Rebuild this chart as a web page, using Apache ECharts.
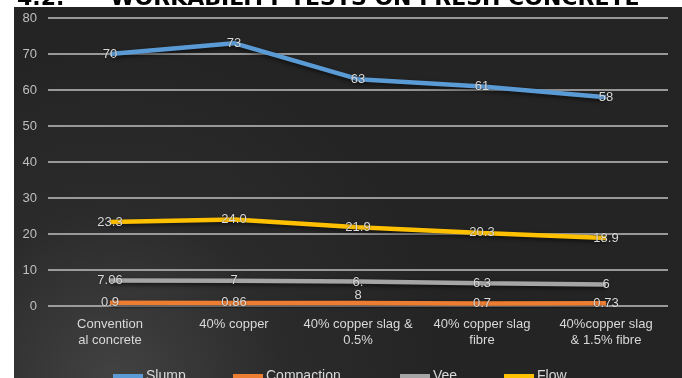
<!DOCTYPE html>
<html>
<head>
<meta charset="utf-8">
<script src="https://cdn.jsdelivr.net/npm/echarts@6/dist/echarts.min.js"></script>
<style>
  html, body { margin: 0; padding: 0; background: #fff; }
  #chart { width: 682px; height: 378px; }
</style>
</head>
<body>
<div id="chart"></div>
<script>
'use strict';

// workability tests on fresh concrete
const categories = [
  'Convention\nal concrete',
  '40% copper',
  '40% copper slag &\n0.5%',
  '40% copper slag\nfibre',
  '40%copper slag\n& 1.5% fibre'
];
const slump = [70, 73, 63, 61, 58];
const compaction = [0.9, 0.86, 0.8, 0.7, 0.73];
const vee = [7.06, 7, 6.8, 6.3, 6];
const flow = [23.3, 24.0, 21.9, 20.3, 18.9];
const yTicks = [0, 80, 10];

const colors = {
  slump: '#5b9bd5',
  compaction: '#ed7d31',
  vee: '#a5a5a5',
  flow: '#ffc000'
};

const $chart = echarts.init(document.getElementById('chart'));

const labelStyle = {
  show: true,
  position: 'inside',
  color: '#d9d9d9',
  fontSize: 13,
  fontFamily: 'Liberation Sans, Arial, sans-serif',
  textShadowColor: 'rgba(0,0,0,0.5)',
  textShadowBlur: 2
};

const makeSeries = (name, data, color, fmt) => ({
  name,
  type: 'line',
  data,
  symbol: 'circle',
  symbolSize: 1,
  showSymbol: true,
  lineStyle: {
    color,
    width: 4.5,
    shadowColor: 'rgba(0,0,0,0.6)',
    shadowBlur: 4,
    shadowOffsetY: 2
  },
  itemStyle: { color },
  label: Object.assign({}, labelStyle, fmt ? { formatter: fmt } : {}),
  z: 2
});

// the wrapped "6.8" label sits a little lower in the source
const veeData = vee.map((v, i) => (i === 2 ? { value: v, label: { offset: [0, 7] } } : v));

const legendAt = (name, left) => ({
  data: [name],
  left,
  top: 364,
  icon: 'rect',
  itemWidth: 30,
  itemHeight: 4,
  textStyle: {
    color: '#d9d9d9',
    fontSize: 14,
    fontFamily: 'Liberation Sans, Arial, sans-serif',
    padding: [0, 0, 0, -2]
  }
});

const option = {
  backgroundColor: '#ffffff',
  animation: false,
  graphic: [
    {
      type: 'rect',
      shape: { x: 14, y: 7, width: 668, height: 371 },
      style: {
        fill: {
          type: 'radial',
          x: 0.15,
          y: 1.0,
          r: 0.9,
          colorStops: [
            { offset: 0, color: '#424242' },
            { offset: 0.5, color: '#2b2b2b' },
            { offset: 1, color: '#242424' }
          ]
        }
      },
      z: -10
    },
    {
      type: 'text',
      left: 17,
      top: -12,
      style: {
        text: '4.2.      WORKABILITY TESTS ON FRESH CONCRETE',
        fill: '#000',
        font: 'bold 22px "DejaVu Sans", sans-serif'
      },
      z: -11
    }
  ],
  grid: {
    left: 48,
    right: 14,
    top: 18,
    bottom: 72
  },
  legend: [
    legendAt('Slump', 108),
    legendAt('Compaction', 228),
    legendAt('Vee', 395),
    legendAt('Flow', 499)
  ],
  xAxis: {
    type: 'category',
    data: categories,
    boundaryGap: true,
    axisLine: { show: false },
    axisTick: { show: false },
    axisLabel: {
      interval: 0,
      color: '#d9d9d9',
      fontSize: 13,
      lineHeight: 16,
      margin: 10,
      fontFamily: 'Liberation Sans, Arial, sans-serif'
    }
  },
  yAxis: {
    type: 'value',
    min: yTicks[0],
    max: yTicks[1],
    interval: yTicks[2],
    axisLine: { show: false },
    axisTick: { show: false },
    axisLabel: {
      color: '#bfbfbf',
      fontSize: 13,
      margin: 11,
      fontFamily: 'Liberation Sans, Arial, sans-serif'
    },
    splitLine: { lineStyle: { color: '#bfbfbf', width: 1.5 } }
  },
  series: [
    makeSeries('Slump', slump, colors.slump),
    makeSeries('Compaction', compaction, colors.compaction, (p) => (p.dataIndex === 2 ? '' : String(p.value))),
    makeSeries('Vee', veeData, colors.vee, (p) => (p.dataIndex === 2 ? '6.\n8' : String(p.value))),
    makeSeries('Flow', flow, colors.flow, (p) => p.value.toFixed(1))
  ]
};

$chart.setOption(option);

window.addEventListener('resize', () => {
  $chart.resize();
});
</script>
</body>
</html>
